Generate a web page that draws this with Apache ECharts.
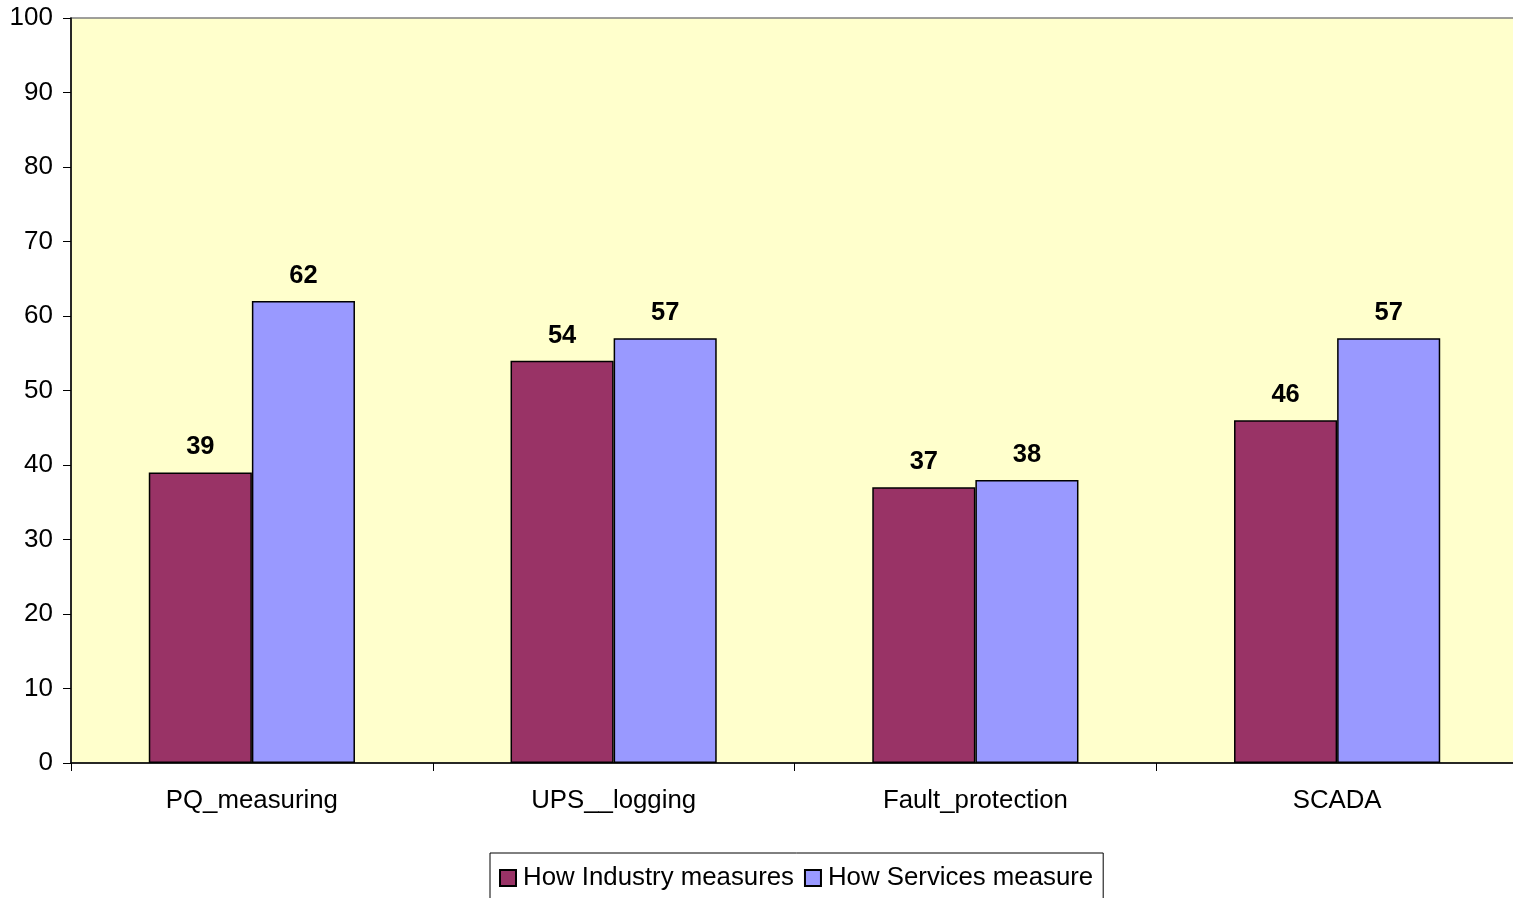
<!DOCTYPE html>
<html lang="en">
<head>
    <meta charset="UTF-8">
    <title>Chart</title>
    <script src="https://cdn.jsdelivr.net/npm/echarts/dist/echarts.min.js"></script>
    <style>
        html, body { margin: 0; padding: 0; background: #fff; overflow: hidden; }
        /* plot area runs a few px past the right edge in the original */
        #chart { width: 1518px; height: 898px; }
    </style>
</head>
<body>
    <div id="chart"></div>
    <script>
        // data
        const categories = ['PQ_measuring', 'UPS__logging', 'Fault_protection', 'SCADA'];
        const industry = [39, 54, 37, 46];
        const services = [62, 57, 38, 57];
        const seriesNames = ['How Industry measures', 'How Services measure'];

        const font = 'Liberation Sans, Arial, sans-serif';

        function barSeries(name, data, color) {
            return {
                name: name,
                type: 'bar',
                data: data,
                barGap: '0%',
                barCategoryGap: '43%',
                itemStyle: { color: color, borderColor: '#000', borderWidth: 1.5 },
                label: {
                    show: true,
                    position: 'top',
                    distance: 12,
                    color: '#000',
                    fontFamily: font,
                    fontWeight: 'bold',
                    fontSize: 25.5
                }
            };
        }

        const chart = echarts.init(document.getElementById('chart'));
        chart.setOption({
            animation: false,
            grid: {
                left: 71, right: 0, top: 18, bottom: 135,
                show: true,
                backgroundColor: '#FFFFCC',
                borderColor: '#808080',
                borderWidth: 1.5
            },
            legend: {
                data: seriesNames,
                left: 490,
                top: 853,
                orient: 'horizontal',
                padding: [12, 10, 12, 9],
                borderColor: '#000',
                borderWidth: 1,
                itemWidth: 16,
                itemHeight: 16,
                itemGap: 10,
                icon: 'rect',
                textStyle: { fontFamily: font, fontSize: 25.8, color: '#000', padding: [0, 0, 0, 2] }
            },
            xAxis: {
                type: 'category',
                data: categories,
                axisLine: { lineStyle: { color: '#000', width: 1.5 } },
                axisTick: { show: true, length: 8, lineStyle: { color: '#000' } },
                axisLabel: { margin: 25, color: '#000', fontFamily: font, fontSize: 25.8 }
            },
            yAxis: {
                type: 'value',
                min: 0,
                max: 100,
                interval: 10,
                splitLine: { show: false },
                axisLine: { show: true, lineStyle: { color: '#000', width: 1.5 } },
                axisTick: { show: true, length: 8, lineStyle: { color: '#000' } },
                axisLabel: { margin: 18, color: '#000', fontFamily: font, fontSize: 26 }
            },
            series: [
                barSeries(seriesNames[0], industry, '#993366'),
                barSeries(seriesNames[1], services, '#9999FF')
            ]
        });
    </script>
</body>
</html>
